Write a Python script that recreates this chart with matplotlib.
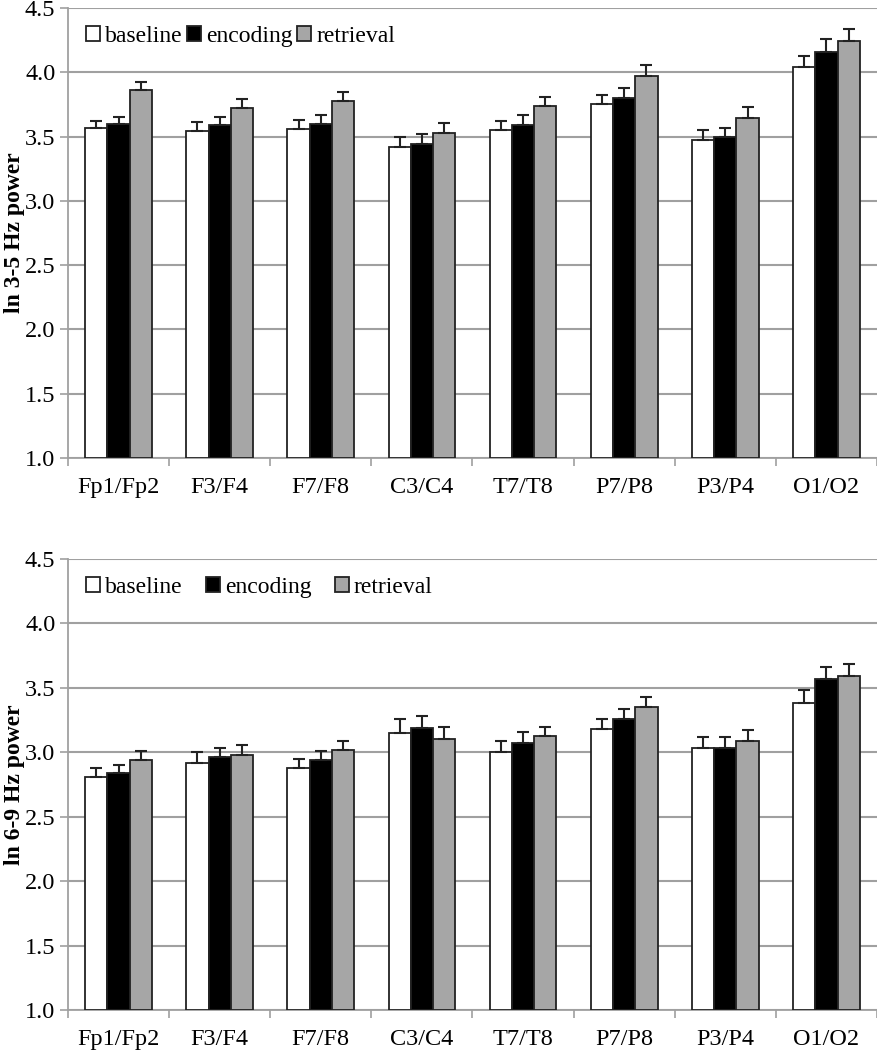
import matplotlib.pyplot as plt
import numpy as np

plt.rcParams['font.family'] = ['Liberation Serif', 'DejaVu Serif']

regions = ['Fp1/Fp2', 'F3/F4', 'F7/F8', 'C3/C4', 'T7/T8', 'P7/P8', 'P3/P4', 'O1/O2']
conditions = ['baseline', 'encoding', 'retrieval']

# ln 3-5 Hz power (means, top of error bar)
theta_base = [3.57, 3.54, 3.56, 3.42, 3.55, 3.75, 3.47, 4.04]
theta_enc = [3.60, 3.59, 3.60, 3.445, 3.59, 3.80, 3.50, 4.16]
theta_ret = [3.86, 3.72, 3.78, 3.53, 3.735, 3.97, 3.645, 4.245]
theta_base_top = [3.62, 3.61, 3.625, 3.50, 3.62, 3.82, 3.55, 4.13]
theta_enc_top = [3.655, 3.65, 3.665, 3.52, 3.665, 3.88, 3.57, 4.255]
theta_ret_top = [3.925, 3.79, 3.85, 3.605, 3.81, 4.055, 3.73, 4.34]

# ln 6-9 Hz power
alpha_base = [2.81, 2.915, 2.875, 3.15, 3.00, 3.18, 3.03, 3.38]
alpha_enc = [2.84, 2.96, 2.94, 3.185, 3.075, 3.26, 3.035, 3.57]
alpha_ret = [2.94, 2.98, 3.02, 3.10, 3.13, 3.35, 3.085, 3.595]
alpha_base_top = [2.875, 3.0, 2.945, 3.255, 3.085, 3.26, 3.12, 3.485]
alpha_enc_top = [2.90, 3.035, 3.01, 3.28, 3.155, 3.335, 3.12, 3.665]
alpha_ret_top = [3.01, 3.055, 3.09, 3.195, 3.20, 3.43, 3.175, 3.685]

colors = ['white', 'black', '#a6a6a6']
grid_col = '#a0a0a0'


def draw_panel(ax, means, tops, ylabel, colspace):
    x = np.arange(len(regions))
    w = 0.22
    for i in range(3):
        m = np.array(means[i])
        err = np.array(tops[i]) - m
        ax.bar(x + (i - 1) * w, m - 1.0, w, bottom=1.0, color=colors[i],
               edgecolor='#222222', linewidth=1.3, label=conditions[i], zorder=3,
               yerr=[np.zeros_like(err), err], capsize=4,
               error_kw=dict(ecolor='#222222', elinewidth=1.5, capthick=1.5, zorder=4))
    ax.set_xlim(-0.5, len(regions) - 0.5)
    ax.set_ylim(1.0, 4.5)
    ax.set_yticks(np.arange(1.0, 4.51, 0.5))
    ax.set_yticklabels(['%.1f' % v for v in np.arange(1.0, 4.51, 0.5)])
    ax.yaxis.grid(True, color=grid_col, linewidth=1.5, zorder=0)
    ax.set_axisbelow(True)
    ax.set_xticks(x)
    ax.set_xticklabels(regions)
    ax.set_xticks(np.arange(-0.5, len(regions)), minor=True)
    ax.tick_params(axis='x', which='major', length=0, pad=14, labelsize=17.5)
    ax.tick_params(axis='x', which='minor', length=6, color=grid_col, width=1.2)
    ax.tick_params(axis='y', length=6, color=grid_col, width=1.2, labelsize=17.5, pad=3)
    for s in ['top', 'right']:
        ax.spines[s].set_visible(False)
    for s in ['left', 'bottom']:
        ax.spines[s].set_color(grid_col)
        ax.spines[s].set_linewidth(1.3)
    ax.set_ylabel(ylabel, fontsize=17, fontweight='bold', labelpad=0)
    ax.legend(loc='upper left', ncol=3, frameon=False, fontsize=17,
              handlelength=0.6, handleheight=0.6, handletextpad=0.2,
              columnspacing=colspace, bbox_to_anchor=(0.0, 1.0), borderaxespad=0.35)


fig = plt.figure(figsize=(8.78, 10.5), dpi=100)
ax1 = fig.add_axes([0.0774, 0.5638, 0.9214, 0.4286])
ax2 = fig.add_axes([0.0774, 0.0381, 0.9214, 0.4295])

draw_panel(ax1, [theta_base, theta_enc, theta_ret],
           [theta_base_top, theta_enc_top, theta_ret_top], 'ln 3-5 Hz power', 0.2)
draw_panel(ax2, [alpha_base, alpha_enc, alpha_ret],
           [alpha_base_top, alpha_enc_top, alpha_ret_top], 'ln 6-9 Hz power', 1.0)

fig.savefig('out.png', dpi=100)
